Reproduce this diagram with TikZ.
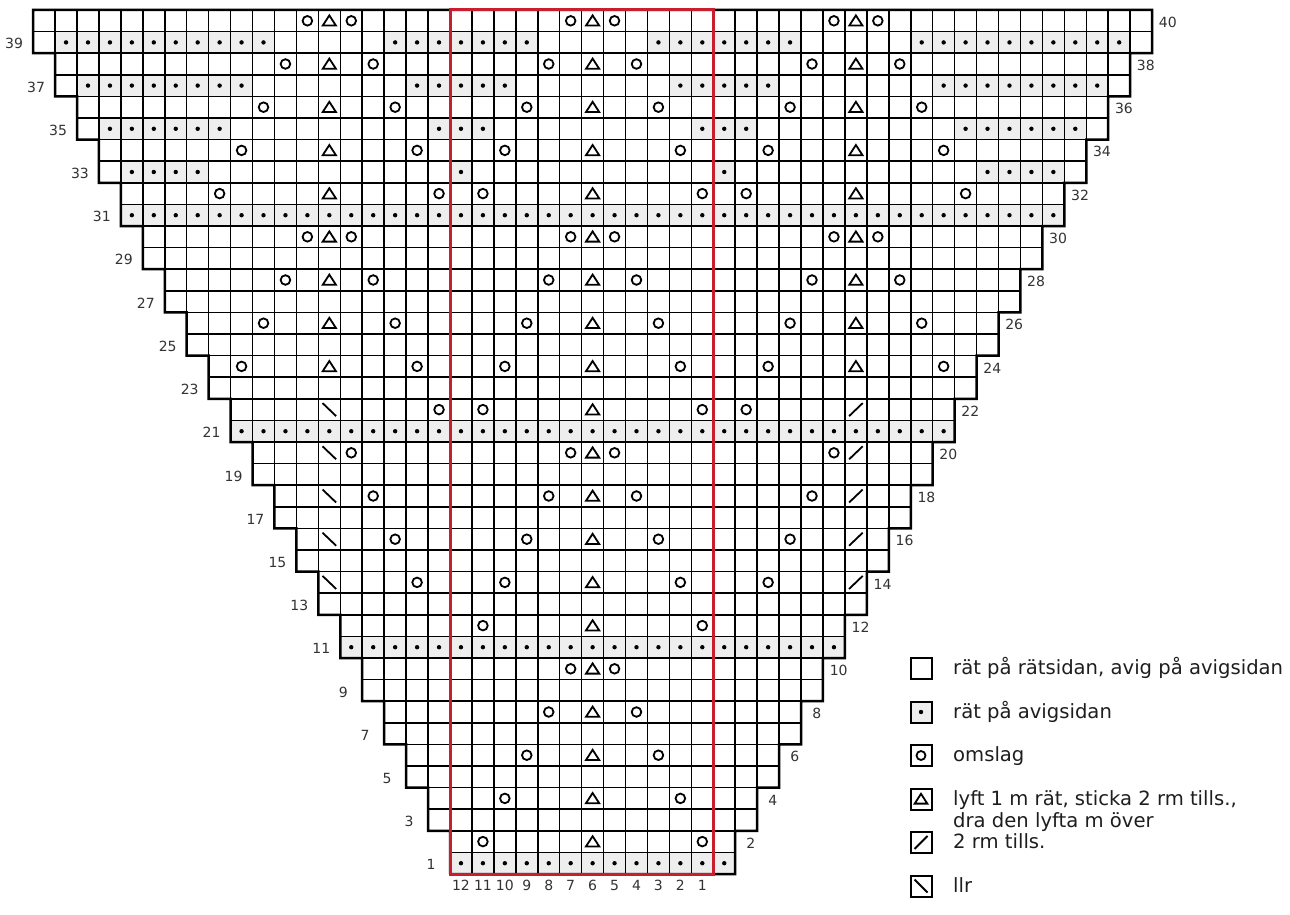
\documentclass[tikz,border=0pt]{standalone}
\usepackage{fontspec}
\setmainfont{DejaVu Sans}
\definecolor{cellgray}{RGB}{238,238,238}
\definecolor{chartred}{RGB}{200,30,45}
\definecolor{numgray}{RGB}{51,51,51}
\definecolor{legblack}{RGB}{30,30,30}
\newcommand\colx[1]{(450+(#1+0.5)*21.94)}
\newcommand\rowy[1]{(10+(40.5-#1)*21.6)}
\newcommand\YO[2]{\draw[symline] ({\colx{#1}},{\rowy{#2}}) circle (4.8pt);}
\newcommand\TRI[2]{\draw[symline] ({\colx{#1}-6.6},{\rowy{#2}+4.8}) -- ++(13.2,0) -- ++(-6.6,-10.2) -- cycle;}
\newcommand\LLR[2]{\draw[symline] ({\colx{#1}-6.8},{\rowy{#2}-6.5}) -- ++(13.6,13);}
\newcommand\TOG[2]{\draw[symline] ({\colx{#1}-6.8},{\rowy{#2}+6.5}) -- ++(13.6,-13);}
\newcommand\DOT[2]{\fill[black] ({\colx{#1}},{\rowy{#2}}) circle (2.2pt);}
\newcommand\GRAY[2]{\fill[cellgray] ({\colx{#1}-10.97},{\rowy{#2}-10.8}) rectangle ++(21.94,21.6);}
\begin{document}
\begin{tikzpicture}[x=1pt,y=-1pt,
  gridline/.style={line width=1.5pt, black},
  chartoutline/.style={line width=2.5pt, black, line join=miter},
  symline/.style={line width=1.8pt, black},
  numlab/.style={font=\fontsize{14pt}{16pt}\selectfont, text=numgray, inner sep=0pt},
  legtext/.style={font=\fontsize{19.6pt}{22pt}\selectfont, text=legblack, inner sep=0pt, anchor=base west},
  legbox/.style={line width=2pt, black}
]
\fill[white] (0,0) rectangle (1290,915);
\useasboundingbox (0,0) rectangle (1290,915);
% gray cells
\foreach \r/\a/\b in {1/0/12, 11/-5/17, 21/-10/22, 31/-15/27,
  33/-15/-12, 33/0/0, 33/12/12, 33/24/27,
  35/-16/-11, 35/-1/1, 35/11/13, 35/23/28,
  37/-17/-10, 37/-2/2, 37/10/14, 37/22/29,
  39/-18/-9, 39/-3/3, 39/9/15, 39/21/30}
  {\foreach \c in {\a,...,\b} {\GRAY{\c}{\r}}}
% grid: horizontal lines (bottom edge of each row)
\foreach \r in {1,...,40} {
  \pgfmathtruncatemacro\kk{floor((\r-1)/2)}
  \draw[gridline] ({450-\kk*21.94},{10+(41-\r)*21.6}) -- ({450+(13+\kk)*21.94},{10+(41-\r)*21.6});
}
% grid: vertical lines
\foreach \c in {-19,...,32} {
  \pgfmathtruncatemacro\km{max(0,-\c,\c-13)}
  \draw[gridline] ({450+\c*21.94},10) -- ({450+\c*21.94},{10+(40-2*\km)*21.6});
}
% dots
\foreach \r/\a/\b in {1/0/12, 11/-5/17, 21/-10/22, 31/-15/27,
  33/-15/-12, 33/0/0, 33/12/12, 33/24/27,
  35/-16/-11, 35/-1/1, 35/11/13, 35/23/28,
  37/-17/-10, 37/-2/2, 37/10/14, 37/22/29,
  39/-18/-9, 39/-3/3, 39/9/15, 39/21/30}
  {\foreach \c in {\a,...,\b} {\DOT{\c}{\r}}}
% outline
\draw[chartoutline] (450,874)
  \foreach \p in {0,...,19} { -- ({450-\p*21.94},{10+(40-2*\p)*21.6}) -- ({450-\p*21.94},{10+(38-2*\p)*21.6}) }
  -- ({450+32*21.94},10)
  \foreach \p in {19,...,0} { -- ({450+(13+\p)*21.94},{10+(38-2*\p)*21.6}) -- ({450+(13+\p)*21.94},{10+(40-2*\p)*21.6}) }
  -- cycle;
% red frame
\draw[chartred, line width=3pt] (450,10) rectangle ({450+12*21.94},874);
% yarn overs
\foreach \r/\c in {40/-7,40/-5,40/5,40/7,40/17,40/19,
  38/-8,38/-4,38/4,38/8,38/16,38/20,
  36/-9,36/-3,36/3,36/9,36/15,36/21,
  34/-10,34/-2,34/2,34/10,34/14,34/22,
  32/-11,32/-1,32/1,32/11,32/13,32/23,
  30/-7,30/-5,30/5,30/7,30/17,30/19,
  28/-8,28/-4,28/4,28/8,28/16,28/20,
  26/-9,26/-3,26/3,26/9,26/15,26/21,
  24/-10,24/-2,24/2,24/10,24/14,24/22,
  22/-1,22/1,22/11,22/13,
  20/-5,20/5,20/7,20/17,
  18/-4,18/4,18/8,18/16,
  16/-3,16/3,16/9,16/15,
  14/-2,14/2,14/10,14/14,
  12/1,12/11, 10/5,10/7, 8/4,8/8, 6/3,6/9, 4/2,4/10, 2/1,2/11}
  {\YO{\c}{\r}}
% double decreases
\foreach \r in {2,4,...,40} {\TRI{6}{\r}}
\foreach \r in {24,26,...,40} {\TRI{-6}{\r}\TRI{18}{\r}}
% single decreases
\foreach \r in {14,16,...,22} {\LLR{-6}{\r}\TOG{18}{\r}}
% row labels
\foreach \r in {1,3,...,39} {
  \pgfmathsetmacro\labx{450-(\r-1)/2*21.94-19}
  \node[numlab] (rowlab\r) at (\labx,{\rowy{\r}+1.5}) {\r};
}
\foreach \r in {2,4,...,40} {
  \pgfmathsetmacro\labx{450+(13+(\r-2)/2)*21.94+15.7}
  \node[numlab] (rowlab\r) at (\labx,{\rowy{\r}+1.5}) {\r};
}
% column labels
\foreach \n [count=\i from 0] in {12,11,...,1} {
  \node[numlab] (collab\n) at ({\colx{\i}},885) {\n};
}
% legend
\draw[legbox] (910.5,658) rectangle (931.5,679);
\node[legtext] (leg1) at (953,674.5) {rät på rätsidan, avig på avigsidan};
\draw[legbox, fill=cellgray] (910.5,701.5) rectangle (931.5,722.5);
\fill[black] (921,712) circle (2.2pt);
\node[legtext] (leg2) at (953,718) {rät på avigsidan};
\draw[legbox] (910.5,745) rectangle (931.5,766);
\draw[symline] (921,755.5) circle (4.5pt);
\node[legtext] (leg3) at (953,761.5) {omslag};
\draw[legbox] (910.5,788.5) rectangle (931.5,809.5);
\draw[symline] (914.7,803.6) -- ++(12.6,0) -- ++(-6.3,-9.8) -- cycle;
\node[legtext] (leg4a) at (953,805) {lyft 1 m rät, sticka 2 rm tills.,};
\node[legtext] (leg4b) at (953,827) {dra den lyfta m över};
\draw[legbox] (910.5,832) rectangle (931.5,853);
\draw[symline] (914.5,849) -- (927.5,836);
\node[legtext] (leg5) at (953,848.5) {2 rm tills.};
\draw[legbox] (910.5,875.5) rectangle (931.5,896.5);
\draw[symline] (914.5,879.5) -- (927.5,892.5);
\node[legtext] (leg6) at (953,892) {llr};
\end{tikzpicture}
\end{document}
